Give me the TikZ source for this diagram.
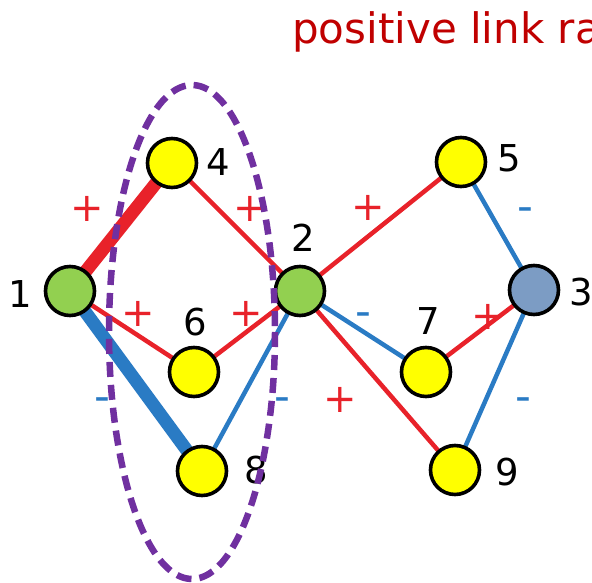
\documentclass[tikz,border=0pt]{standalone}
\usepackage{fontspec}
\setmainfont{DejaVu Sans}
\definecolor{posred}{HTML}{E8222A}
\definecolor{negblue}{HTML}{2A7BC4}
\definecolor{ngreen}{HTML}{92D050}
\definecolor{nyellow}{HTML}{FFFF00}
\definecolor{nbluegrey}{HTML}{7C9CC4}
\definecolor{titlered}{HTML}{C00000}
\definecolor{elpurple}{HTML}{7030A0}
\pgfdeclarelayer{bg}
\pgfsetlayers{bg,main}
\begin{document}
\begin{tikzpicture}[x=1pt,y=-1pt,
  vtx/.style={circle,draw=black,line width=3.6pt,minimum size=49pt,inner sep=0pt},
  digitlab/.style={font=\fontsize{37}{40}\selectfont,inner sep=0pt,anchor=center},
  poslink/.style={draw=posred,line width=4.5pt},
  neglink/.style={draw=negblue,line width=4.5pt},
  heavylink/.style={line width=13pt},
  plussign/.style={text=posred,font=\fontsize{40}{40}\selectfont,inner sep=0pt,anchor=center},
  minussign/.style={text=negblue,font=\fontsize{44}{44}\selectfont,inner sep=0pt,anchor=base},
  groupring/.style={draw=elpurple,line width=6.5pt,dash pattern=on 15pt off 8pt}
]
\useasboundingbox (0,0) rectangle (592,583);

% title
\node[anchor=base west,text=titlered,font=\fontsize{42}{50}\selectfont,inner sep=0pt] (title) at (292,44) {positive link ra};

% vertices
\node[vtx,fill=ngreen] (n1) at (70,291) {};
\node[vtx,fill=nyellow] (n4) at (172,163) {};
\node[vtx,fill=ngreen] (n2) at (300,291) {};
\node[vtx,fill=nyellow] (n5) at (461,162) {};
\node[vtx,fill=nbluegrey] (n3) at (534,290) {};
\node[vtx,fill=nyellow] (n6) at (194,372) {};
\node[vtx,fill=nyellow] (n7) at (426,372) {};
\node[vtx,fill=nyellow] (n8) at (202,471) {};
\node[vtx,fill=nyellow] (n9) at (455,470) {};

% vertex labels
\node[digitlab] (l1) at (20,294) {1};
\node[digitlab] (l4) at (218,162) {4};
\node[digitlab] (l2) at (303,238) {2};
\node[digitlab] (l5) at (509,158) {5};
\node[digitlab] (l3) at (581,292) {3};
\node[digitlab] (l6) at (195,322) {6};
\node[digitlab] (l7) at (428,321) {7};
\node[digitlab] (l8) at (256,470) {8};
\node[digitlab] (l9) at (507,472) {9};

% links
\begin{pgfonlayer}{bg}
\draw[poslink,heavylink] (n1.center) -- (n4.center);
\draw[neglink,heavylink] (n1.center) -- (n8.center);
\draw[poslink] (n1.center) -- (n6.center);
\draw[poslink] (n4.center) -- (n2.center);
\draw[poslink] (n6.center) -- (n2.center);
\draw[neglink] (n8.center) -- (n2.center);
\draw[poslink] (n2.center) -- (n5.center);
\draw[neglink] (n2.center) -- (n7.center);
\draw[poslink] (n2.center) -- (n9.center);
\draw[neglink] (n5.center) -- (n3.center);
\draw[poslink] (n7.center) -- (n3.center);
\draw[neglink] (n9.center) -- (n3.center);
\end{pgfonlayer}

% signs
\node[plussign] (s14) at (87,209) {+};
\node[plussign] (s42) at (250,209) {+};
\node[plussign] (s16) at (138,314) {+};
\node[plussign] (s62) at (246,314) {+};
\node[plussign] (s25) at (368,208) {+};
\node[plussign] (s73) at (488,317) {+};
\node[plussign] (s29) at (340,400) {+};
\node[minussign] (s18) at (102,411) {-};
\node[minussign] (s82) at (282,411) {-};
\node[minussign] (s53) at (525,221) {-};
\node[minussign] (s27) at (363,326) {-};
\node[minussign] (s93) at (523,411) {-};

% group ellipse
\draw[groupring] (192,332) ellipse [x radius=83, y radius=247];
\end{tikzpicture}
\end{document}
